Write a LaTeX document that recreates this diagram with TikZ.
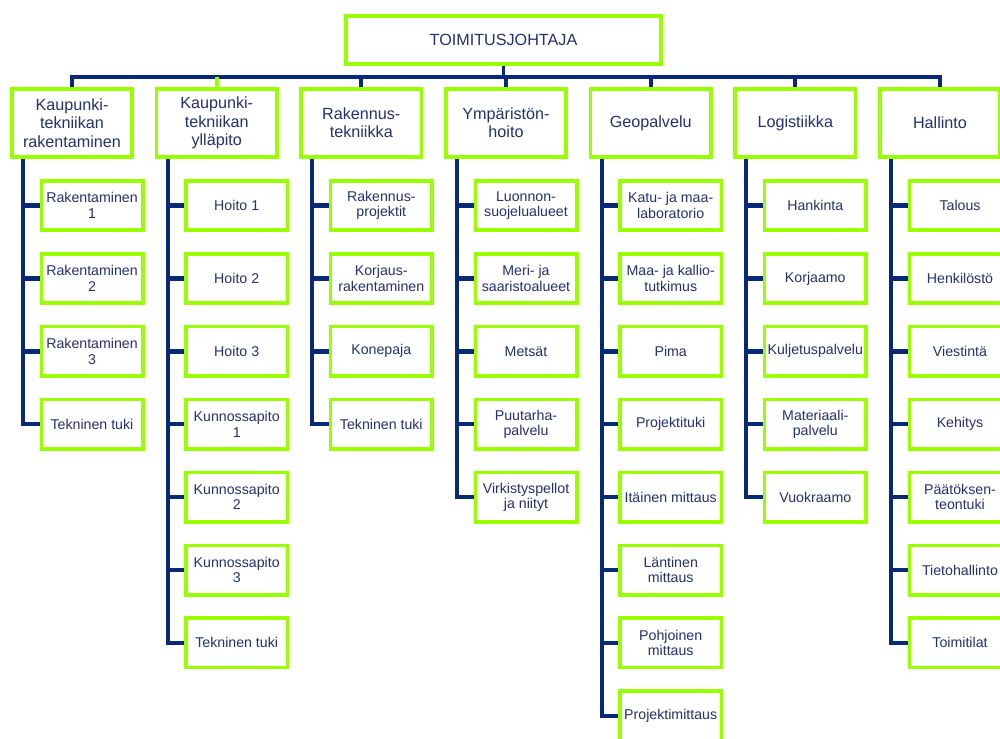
\documentclass[tikz,border=0pt]{standalone}
\usepackage{fontspec}
\setmainfont{Liberation Sans}
\definecolor{boxgreen}{RGB}{153,255,0}
\definecolor{linknavy}{RGB}{8,40,120}
\definecolor{labelnavy}{RGB}{36,48,112}
\tikzset{
  base/.style={draw=boxgreen, line width=1.1mm, fill=white, inner sep=0pt,
    align=center, text=labelnavy},
  chief/.style={base, minimum width=94.6mm, minimum height=14.5mm,
    font=\fontsize{13.8}{15.6}\selectfont},
  dept/.style={base, minimum width=36.1mm, minimum height=20.5mm,
    font=\fontsize{13.8}{15.6}\selectfont},
  unit/.style={base, minimum width=30.4mm, minimum height=14.8mm,
    font=\fontsize{12.1}{13.2}\selectfont},
  link/.style={draw=linknavy, line width=1.1mm},
  stub/.style={draw=linknavy, line width=1.35mm},
  greenlink/.style={draw=boxgreen, line width=1.1mm}
}
% one department column: #1 column number, #2 left edge of the department box, #3 units
\newcommand\orgbranch[3]{%
  \coordinate (s#1) at (#2+13, 159);
  \foreach \t [count=\i] in {#3} {
    \node[unit] (c#1-\i) at (#2+82, 205.5+72.9*\i-72.9) {\t};
    \draw[link] (k#1.south -| s#1) |- (c#1-\i.west);
    \draw[stub] (c#1-\i.west) -- (c#1-\i.west -| s#1);
  }%
}
\begin{document}
\begin{tikzpicture}[x=0.3mm, y=-0.3mm]
  \useasboundingbox (0,0) rectangle (1000,738);
  \clip (0,0) rectangle (1000,738);
  \fill[white] (0,0) rectangle (1000,738);

  % management
  \node[chief] (top) at (503.5,40) {TOIMITUSJOHTAJA};

  % departments
  \node[dept] (k1) at (72,123)    {Kaupunki-\\tekniikan\\rakentaminen};
  \node[dept] (k2) at (216.7,123) {Kaupunki-\\tekniikan\\ylläpito};
  \node[dept] (k3) at (361.3,123) {Rakennus-\\tekniikka};
  \node[dept] (k4) at (506,123)   {Ympäristön-\\hoito};
  \node[dept] (k5) at (650.7,123) {Geopalvelu};
  \node[dept] (k6) at (795.3,123) {Logistiikka};
  \node[dept] (k7) at (940,123)   {Hallinto};

  % distribution bar below the management box
  \coordinate (bar) at (503.5,77);
  \draw[link] (top.south) -- (top.south |- bar);
  \draw[link] (k1.north) |- (bar) -| (k7.north);
  \foreach \k in {3,4,5,6} \draw[link] (k\k.north) -- (k\k.north |- bar);
  \draw[greenlink] (k2.north) -- (k2.north |- bar);

  % units of each department
  \orgbranch{1}{10}{{Rakentaminen\\1},{Rakentaminen\\2},{Rakentaminen\\3},{Tekninen tuki}}
  \orgbranch{2}{154.7}{{Hoito 1},{Hoito 2},{Hoito 3},{Kunnossapito\\1},{Kunnossapito\\2},{Kunnossapito\\3},{Tekninen tuki}}
  \orgbranch{3}{299.3}{{Rakennus-\\projektit},{Korjaus-\\rakentaminen},{Konepaja},{Tekninen tuki}}
  \orgbranch{4}{444}{{Luonnon-\\suojelualueet},{Meri- ja\\saaristoalueet},{Metsät},{Puutarha-\\palvelu},{Virkistyspellot\\ja niityt}}
  \orgbranch{5}{588.7}{{Katu- ja maa-\\laboratorio},{Maa- ja kallio-\\tutkimus},{Pima},{Projektituki},{Itäinen mittaus},{Läntinen\\mittaus},{Pohjoinen\\mittaus},{Projektimittaus}}
  \orgbranch{6}{733.3}{{Hankinta},{Korjaamo},{Kuljetuspalvelu},{Materiaali-\\palvelu},{Vuokraamo}}
  \orgbranch{7}{878}{{Talous},{Henkilöstö},{Viestintä},{Kehitys},{Päätöksen-\\teontuki},{Tietohallinto},{Toimitilat}}
\end{tikzpicture}
\end{document}
